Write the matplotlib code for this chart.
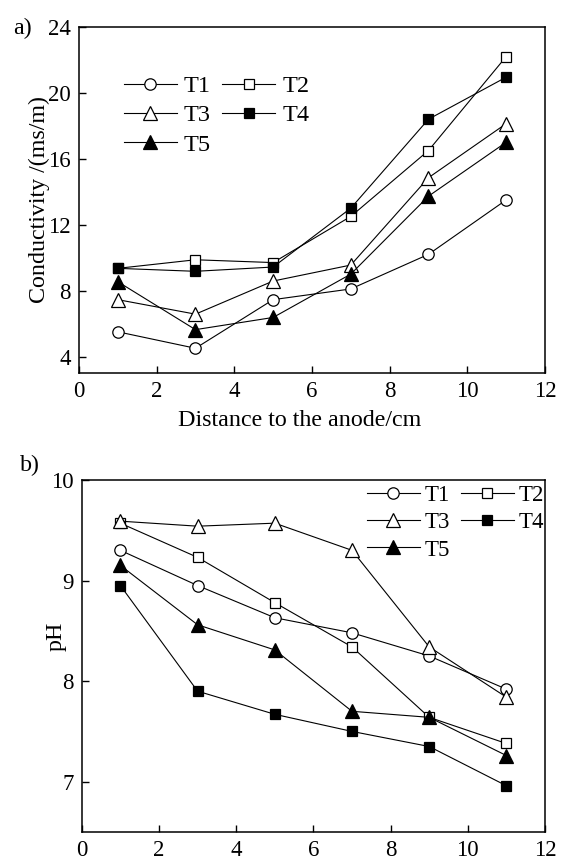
import matplotlib
matplotlib.use("Agg")
import matplotlib.pyplot as plt

plt.rcParams['font.family'] = ['Liberation Serif', 'DejaVu Serif']
plt.rcParams['font.size'] = 17

distance = [1, 3, 5, 7, 9, 11]
series = ["T1", "T2", "T3", "T4", "T5"]

cond_t1 = [5.5, 4.5, 7.45, 8.1, 10.2, 13.5]
cond_t2 = [9.35, 9.87, 9.7, 12.5, 16.5, 22.2]
cond_t3 = [7.45, 6.57, 8.58, 9.55, 14.85, 18.13]
cond_t4 = [9.35, 9.17, 9.43, 13.0, 18.4, 20.95]
cond_t5 = [8.54, 5.63, 6.37, 9.0, 13.73, 17.0]

ph_t1 = [9.30, 8.95, 8.63, 8.48, 8.25, 7.92]
ph_t2 = [9.57, 9.23, 8.78, 8.34, 7.64, 7.38]
ph_t3 = [9.59, 9.54, 9.57, 9.30, 8.34, 7.84]
ph_t4 = [8.95, 7.90, 7.67, 7.50, 7.35, 6.96]
ph_t5 = [9.15, 8.56, 8.31, 7.70, 7.64, 7.26]

styles = {
    "T1": dict(marker="o", mfc="white", ms=8.2),
    "T2": dict(marker="s", mfc="white", ms=7.3),
    "T3": dict(marker="^", mfc="white", ms=9.5),
    "T4": dict(marker="s", mfc="black", ms=7.3),
    "T5": dict(marker="^", mfc="black", ms=9.5),
}

fig = plt.figure(figsize=(5.68, 8.63), dpi=100)
ax1 = fig.add_axes([0.139, 0.5678, 0.8205, 0.401])
ax2 = fig.add_axes([0.144, 0.0359, 0.8155, 0.408])


def draw(ax, data):
    for name, vals in zip(series, data):
        ax.plot(distance, vals, color="black", lw=0.8, mec="black", mew=0.9,
                label=name, **styles[name])
    ax.set_xlim(0, 12)
    ax.set_xticks(range(0, 13, 2))
    ax.tick_params(direction="in", length=5, width=1.0, labelsize=16.5, pad=6)
    for sp in ax.spines.values():
        sp.set_linewidth(1.1)


def legend(ax, anchor, size, hl, pad, cs, ls):
    handles, labels = ax.get_legend_handles_labels()
    order = [0, 2, 4, 1, 3]
    ax.legend([handles[i] for i in order], [labels[i] for i in order],
              ncol=2, frameon=False, loc="upper left", bbox_to_anchor=anchor,
              bbox_transform=fig.transFigure, handlelength=hl,
              handletextpad=pad, columnspacing=cs, labelspacing=ls,
              borderpad=0, borderaxespad=0, fontsize=size)


draw(ax1, [cond_t1, cond_t2, cond_t3, cond_t4, cond_t5])
ax1.set_ylim(3, 24)
ax1.set_yticks([4, 8, 12, 16, 20, 24])
ax1.set_xlabel("Distance to the anode/cm", fontsize=17.3)
ax1.set_ylabel("Conductivity /(ms/m)", fontsize=17.3)
ax1.xaxis.set_label_coords(0.474, -0.108)
ax1.yaxis.set_label_coords(-0.062, 0.5)
legend(ax1, (124 / 568, 1 - 75 / 863), 17.5, 2.18, 0.29, 0.45, 0.3)
fig.text(22 / 568, 1 - 28 / 863, "a)", fontsize=17.3, ha="center", va="center")

draw(ax2, [ph_t1, ph_t2, ph_t3, ph_t4, ph_t5])
ax2.set_ylim(6.5, 10)
ax2.set_yticks([7, 8, 9, 10])
ax2.set_ylabel("pH", fontsize=17.3)
ax2.yaxis.set_label_coords(-0.032, 0.557)
legend(ax2, (367 / 568, 1 - 485 / 863), 16.5, 2.3, 0.22, 0.48, 0.27)
fig.text(30 / 568, 1 - 465 / 863, "b)", fontsize=17.3, ha="center", va="center")

fig.savefig("out.png", dpi=100)
